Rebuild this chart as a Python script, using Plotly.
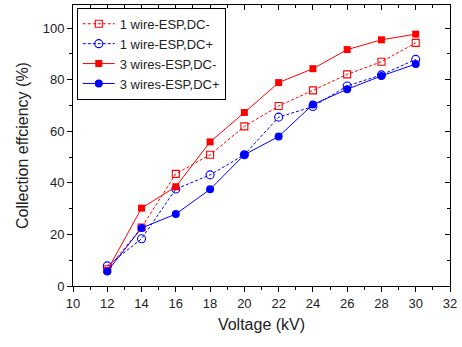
import plotly.graph_objects as go

voltage = [12, 14, 16, 18, 20, 22, 24, 26, 28, 30]
one_wire_dc_neg = [6.5, 22.7, 43.5, 50.9, 61.9, 69.8, 75.9, 82.1, 87.0, 94.3]
one_wire_dc_pos = [7.8, 18.3, 37.6, 43.1, 50.9, 65.5, 69.6, 77.6, 81.9, 87.9]
three_wires_dc_neg = [6.0, 30.2, 38.5, 55.9, 67.3, 78.9, 84.3, 91.7, 95.5, 97.7]
three_wires_dc_pos = [5.6, 22.5, 27.9, 37.5, 50.9, 58.0, 70.4, 76.3, 81.5, 86.1]

RED = "#ff0000"
BLUE = "#0000ff"
FONT = "Liberation Sans, Arial, sans-serif"

fig = go.Figure()
fig.add_trace(go.Scatter(x=voltage, y=one_wire_dc_neg, name="1 wire-ESP,DC-",
                         mode="lines+markers",
                         line=dict(color=RED, width=1, dash="3px,2px"),
                         marker=dict(symbol="square-open", size=7, color=RED, line=dict(width=1.1))))
fig.add_trace(go.Scatter(x=voltage, y=one_wire_dc_pos, name="1 wire-ESP,DC+",
                         mode="lines+markers",
                         line=dict(color=BLUE, width=1, dash="3px,2px"),
                         marker=dict(symbol="circle-open", size=8, color=BLUE, line=dict(width=1.1))))
fig.add_trace(go.Scatter(x=voltage, y=three_wires_dc_neg, name="3 wires-ESP,DC-",
                         mode="lines+markers",
                         line=dict(color=RED, width=1),
                         marker=dict(symbol="square", size=7, color=RED)))
fig.add_trace(go.Scatter(x=voltage, y=three_wires_dc_pos, name="3 wires-ESP,DC+",
                         mode="lines+markers",
                         line=dict(color=BLUE, width=1),
                         marker=dict(symbol="circle", size=8, color=BLUE)))

axis_common = dict(showgrid=False, zeroline=False, showline=True, linecolor="black",
                   linewidth=1, ticklen=5, tickwidth=1, tickcolor="black",
                   tickfont=dict(family=FONT, size=13, color="#222222"))

fig.update_layout(
    width=462, height=347,
    margin=dict(l=73, r=8, t=5, b=61),
    paper_bgcolor="white", plot_bgcolor="white",
    font=dict(family=FONT, size=13, color="#222222"),
    showlegend=True,
    legend=dict(x=0.01, y=0.99, xanchor="left", yanchor="top",
                bgcolor="white", bordercolor="black", borderwidth=1,
                font=dict(family=FONT, size=13, color="#222222"),
                tracegroupgap=0, itemwidth=32),
    xaxis=dict(range=[10, 32], tickvals=list(range(10, 33, 2)), ticks="outside",
               minor=dict(tickvals=list(range(11, 32, 2)), ticks="outside", ticklen=3, tickcolor="black"),
               title=dict(text="Voltage (kV)", font=dict(family=FONT, size=16), standoff=9),
               **axis_common),
    yaxis=dict(range=[0, 109], tickvals=list(range(0, 101, 20)), ticks="outside",
               minor=dict(tickvals=list(range(10, 101, 20)), ticks="outside", ticklen=3, tickcolor="black"),
               title=dict(text="Collection effciency (%)", font=dict(family=FONT, size=16), standoff=10),
               **axis_common),
    xaxis2=dict(overlaying="x", side="top", matches="x", range=[10, 32],
                tickvals=list(range(10, 33, 2)), ticks="inside", showticklabels=False,
                minor=dict(tickvals=list(range(11, 32, 2)), ticks="inside", ticklen=3, tickcolor="black"),
                **axis_common),
    yaxis2=dict(overlaying="y", side="right", matches="y", range=[0, 109],
                tickvals=list(range(0, 101, 20)), ticks="inside", showticklabels=False,
                minor=dict(tickvals=list(range(10, 101, 20)), ticks="inside", ticklen=3, tickcolor="black"),
                **axis_common),
)
# invisible trace to activate the mirrored axes
fig.add_trace(go.Scatter(x=[None], y=[None], xaxis="x2", yaxis="y2", showlegend=False, hoverinfo="skip"))

fig.write_html("out.html")
